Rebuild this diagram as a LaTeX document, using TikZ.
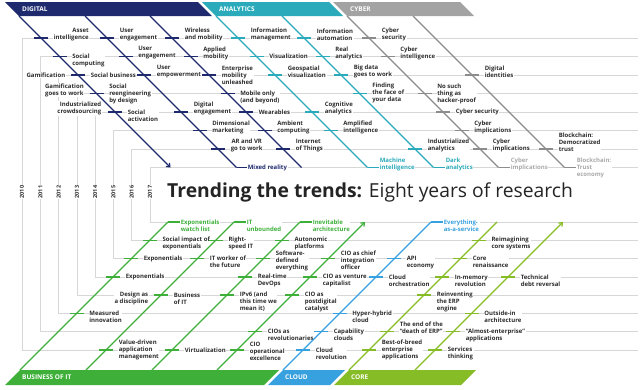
\documentclass[tikz,border=0pt]{standalone}
\usepackage{fontspec}
\setmainfont{Open Sans}
\usetikzlibrary{arrows.meta}
\definecolor{digital}{RGB}{31,42,110}
\definecolor{analytics}{RGB}{42,170,186}
\definecolor{cyber}{RGB}{140,140,140}
\definecolor{cyberlight}{RGB}{170,170,170}
\definecolor{bizit}{RGB}{62,176,58}
\definecolor{cloud}{RGB}{55,160,222}
\definecolor{core}{RGB}{134,188,37}
\definecolor{gridgray}{RGB}{215,215,215}
\definecolor{inkgray}{RGB}{45,45,45}
\begin{document}
\begin{tikzpicture}[x=1pt,y=-1pt,
  trend/.style={font=\fontsize{6}{7}\selectfont\bfseries,text=inkgray,fill=white,inner sep=0.6pt,align=left,anchor=west},
  yearrule/.style={draw=gridgray,line width=0.8pt},
  spine/.style={line width=1.2pt},
  tick/.style={line width=1.3pt},
  bandtext/.style={font=\fontsize{6.5}{7}\selectfont\bfseries,text=white,anchor=west,inner sep=0pt},
  yearlabel/.style={font=\fontsize{5.5}{6}\selectfont\bfseries,text=inkgray,fill=white,rotate=90,inner sep=1pt}]
\useasboundingbox (0,0) rectangle (640,389);
% year frames: top row, left rule, bottom row
\foreach \yr/\xx/\yt/\yb in {2010/22/38/350,2011/40.3/56.5/331.7,2012/58.6/75/313.4,2013/76.9/93.5/295.1,
  2014/95.1/112/276.9,2015/113.4/130.5/258.6,2016/131.7/149/240.3,2017/150/167.5/222}{
  \draw[yearrule] (638,\yt) -- (\xx,\yt) -- (\xx,\yb) -- (638,\yb);
  \node[yearlabel] (y\yr) at (\xx,192) {\yr};
}
% bands
\fill[digital] (5,2) -- (198,2) -- (212,16) -- (19,16) -- cycle;
\fill[analytics] (202,2) -- (329,2) -- (343,16) -- (216,16) -- cycle;
\fill[cyber!80] (333,2) -- (460,2) -- (474,16) -- (347,16) -- cycle;
\node[bandtext] (bdigital) at (22,9) {DIGITAL};
\node[bandtext] (banalytics) at (219,9) {ANALYTICS};
\node[bandtext] (bcyber) at (350,9) {CYBER};
\fill[bizit] (20,370) -- (279,370) -- (264,385) -- (5,385) -- cycle;
\fill[cloud] (283,370) -- (345,370) -- (330,385) -- (268,385) -- cycle;
\fill[core] (349,370) -- (476,370) -- (461,385) -- (334,385) -- cycle;
\node[bandtext] (bbizit) at (22,377.5) {BUSINESS OF IT};
\node[bandtext] (bcloud) at (285,377.5) {CLOUD};
\node[bandtext] (bcore) at (351,377.5) {CORE};
% title
\node[anchor=base west,inner sep=0,text=inkgray!80!black,font=\fontsize{19.3}{20}\selectfont] (title) at (167,197)
  {\bfseries Trending the trends:\mdseries{} Eight years of research};
% top trends
\node[trend,align=right] (asset) at (53,34.5) {Asset\\intelligence};
\node[trend] (usereng) at (119,34.5) {User\\engagement};
\node[trend] (wireless) at (184,34.5) {Wireless\\and mobility};
\node[trend] (infomgmt) at (250,34.5) {Information\\management};
\node[trend] (infoauto) at (316,34.5) {Information\\automation};
\node[trend] (cybersec) at (381,34.5) {Cyber\\security};
\node[trend] (socialcomp) at (71.5,60) {Social\\computing};
\node[trend] (usereng2) at (137.5,53) {User\\engagement};
\node[trend] (applied) at (202.5,53) {Applied\\mobility};
\node[trend] (visual) at (268.5,56.5) {Visualization};
\node[trend] (realana) at (334.5,53) {Real\\analytics};
\node[trend] (cyberint) at (399.5,53) {Cyber\\intelligence};
\node[trend,anchor=east] (gamif) at (66,75) {Gamification};
\node[trend] (socbiz) at (90,75) {Social business};
\node[trend] (userempow) at (156,71.5) {User\\empowerment};
\node[trend] (entmob) at (221,75) {Enterprise\\mobility\\unleashed};
\node[trend] (geospat) at (287,71.5) {Geospatial\\visualization};
\node[trend] (bigdata) at (353,71.5) {Big data\\goes to work};
\node[trend] (digid) at (484,71.5) {Digital\\identities};
\node[trend,anchor=east,align=center] (gamwork) at (84.5,90) {Gamification\\goes to work};
\node[trend] (socreeng) at (108.5,93.5) {Social\\reengineering\\by design};
\node[trend] (mobonly) at (239.5,97) {Mobile only\\(and beyond)};
\node[trend] (finding) at (371.5,93) {Finding\\the face of\\your data};
\node[trend] (hackproof) at (436.5,93.5) {No such\\thing as\\hacker-proof};
\node[trend,anchor=east,align=right] (crowd) at (102,108.5) {Industrialized\\crowdsourcing};
\node[trend] (socact) at (127,115.5) {Social\\activation};
\node[trend] (digeng) at (193,108.5) {Digital\\engagement};
\node[trend] (wearables) at (258,112) {Wearables};
\node[trend] (cognitive) at (324,108.5) {Cognitive\\analytics};
\node[trend] (cybersec2) at (455,112) {Cyber security};
\node[trend] (dimmark) at (211.5,127) {Dimensional\\marketing};
\node[trend] (ambient) at (276.5,127) {Ambient\\computing};
\node[trend] (amplified) at (342.5,127) {Amplified\\intelligence};
\node[trend] (cyberimp) at (473.5,127) {Cyber\\implications};
\node[trend,align=center] (arvr) at (230,145.5) {AR and VR\\go to work};
\node[trend] (iot) at (295,145.5) {Internet\\of Things};
\node[trend] (indana) at (427,145.5) {Industrialized\\analytics};
\node[trend] (cyberimp2) at (492,145.5) {Cyber\\implications};
\node[trend] (blockdem) at (558,142) {Blockchain:\\Democratized\\trust};
\node[trend,text=digital] (mixed) at (247,167.5) {Mixed reality};
\node[trend,text=analytics] (machine) at (379,164) {Machine\\intelligence};
\node[trend,text=analytics] (dark) at (445,164) {Dark\\analytics};
\node[trend,text=cyberlight] (cyberimp3) at (510,164) {Cyber\\implications};
\node[trend,text=cyberlight] (blocktrust) at (576,167.5) {Blockchain:\\Trust\\economy};
% bottom trends
\node[trend,text=bizit] (expwatch) at (180,225.5) {Exponentials\\watch list};
\node[trend,text=bizit] (itunb) at (246,225.5) {IT\\unbounded};
\node[trend,text=bizit] (inevit) at (312,225.5) {Inevitable\\architecture};
\node[trend,text=cloud] (eaas) at (443,225.5) {Everything-\\as-a-service};
\node[trend] (socimpact) at (161.7,243.8) {Social impact of\\exponentials};
\node[trend] (rightspeed) at (227.7,243.8) {Right-\\speed IT};
\node[trend] (autonomic) at (293.7,243.8) {Autonomic\\platforms};
\node[trend] (reimag) at (490.7,243.8) {Reimagining\\core systems};
\node[trend] (expo15) at (143,258.6) {Exponentials};
\node[trend] (itworker) at (209,262.1) {IT worker of\\the future};
\node[trend] (sde) at (275,260.6) {Software-\\defined\\everything};
\node[trend] (cioint) at (340,260.6) {CIO as chief\\integration\\officer};
\node[trend] (api) at (406,262.1) {API\\economy};
\node[trend] (coreren) at (472,262.1) {Core\\renaissance};
\node[trend] (expo14) at (125,276.9) {Exponentials};
\node[trend] (devops) at (257,280.4) {Real-time\\DevOps};
\node[trend] (ciovc) at (322,280.4) {CIO as venture\\capitalist};
\node[trend] (cloudorch) at (388,280.4) {Cloud\\orchestration};
\node[trend] (inmem) at (454,280.4) {In-memory\\revolution};
\node[trend] (techdebt) at (520,280.4) {Technical\\debt reversal};
\node[trend,anchor=east,align=right] (design) at (149,298.6) {Design as\\a discipline};
\node[trend] (bizofit) at (173,298.6) {Business\\of IT};
\node[trend] (ipv6) at (239,302.1) {IPv6 (and\\this time we\\mean it)};
\node[trend] (ciopost) at (304,302.1) {CIO as\\postdigital\\catalyst};
\node[trend] (reinvent) at (436,302.1) {Reinventing\\the ERP\\engine};
\node[trend] (measured) at (88.6,316.9) {Measured\\innovation};
\node[trend] (hyper) at (351.6,316.9) {Hyper-hybrid\\cloud};
\node[trend] (outside) at (483.6,316.9) {Outside-in\\architecture};
\node[trend] (ciorev) at (267,335.2) {CIOs as\\revolutionaries};
\node[trend] (capab) at (333,335.2) {Capability\\clouds};
\node[trend] (enderp) at (399,328.2) {The end of the\\“death of ERP”};
\node[trend] (almost) at (465,335.2) {“Almost-enterprise”\\applications};
\node[trend] (valuedriven) at (118,350) {Value-driven\\application\\management};
\node[trend] (virtual) at (184,350) {Virtualization};
\node[trend] (cioops) at (249,351) {CIO\\operational\\excellence};
\node[trend] (cloudrev) at (315,353.5) {Cloud\\revolution};
\node[trend] (bestbreed) at (381,350) {Best-of-breed\\enterprise\\applications};
\node[trend] (services) at (447,353.5) {Services\\thinking};
% spines
\foreach \c [count=\k] in {3,69,134,200,266,331,397}{
  \coordinate (d\k-s) at (\c+16,16);
  \coordinate (d\k-e) at (\c+167.5,167.5);
}
\foreach \s [count=\k] in {390,456,522,587,653,719,785}{
  \coordinate (b\k-s) at (\s-370,370);
  \coordinate (b\k-e) at (\s-222,222);
}
\draw[spine,digital,-{Straight Barb[length=3pt,width=5pt]}] (d1-s) -- (d1-e);
\draw[spine,digital] (d2-s) -- (d2-e);
\draw[spine,digital] (d3-s) -- (d3-e);
\draw[spine,analytics] (d4-s) -- (d4-e);
\draw[spine,analytics] (d5-s) -- (d5-e);
\draw[spine,cyber] (d6-s) -- (d6-e);
\draw[spine,cyber] (d7-s) -- (d7-e);
\draw[spine,bizit] (b1-s) -- (b1-e);
\draw[spine,bizit] (b2-s) -- (b2-e);
\draw[spine,bizit] (b3-s) -- (b3-e);
\draw[spine,bizit,-{Straight Barb[length=3pt,width=5pt]}] (b4-s) -- (b4-e);
\draw[spine,cloud] (b5-s) -- (b5-e);
\draw[spine,core] (b6-s) -- (b6-e);
\draw[spine,core,-{Straight Barb[length=3pt,width=5pt]}] (b7-s) -- (b7-e);
% ticks where a trend sits on a spine
\foreach \x/\y/\col in {41/38/digital,107/38/digital,172/38/digital,238/38/analytics,304/38/analytics,369/38/cyber,
  59.5/56.5/digital,125.5/56.5/digital,190.5/56.5/digital,256.5/56.5/analytics,322.5/56.5/analytics,387.5/56.5/cyber,
  78/75/digital,144/75/digital,209/75/digital,275/75/analytics,341/75/analytics,472/75/cyber,
  96.5/93.5/digital,227.5/93.5/digital,359.5/93.5/analytics,424.5/93.5/cyber,
  115/112/digital,181/112/digital,246/112/digital,312/112/analytics,443/112/cyber,
  199.5/130.5/digital,264.5/130.5/digital,330.5/130.5/analytics,461.5/130.5/cyber,
  218/149/digital,283/149/digital,415/149/analytics,480/149/cyber,546/149/cyber,
  106/350/bizit,172/350/bizit,237/350/bizit,303/350/cloud,369/350/core,435/350/core,
  255.3/331.7/bizit,321.3/331.7/cloud,387.3/331.7/core,453.3/331.7/core,
  76.6/313.4/bizit,339.6/313.4/cloud,471.6/313.4/core,
  160.9/295.1/bizit,226.9/295.1/bizit,291.9/295.1/bizit,423.9/295.1/core,
  113.1/276.9/bizit,245.1/276.9/bizit,310.1/276.9/bizit,376.1/276.9/cloud,442.1/276.9/core,508.1/276.9/core,
  131.4/258.6/bizit,197.4/258.6/bizit,263.4/258.6/bizit,328.4/258.6/bizit,394.4/258.6/cloud,460.4/258.6/core,
  149.7/240.3/bizit,215.7/240.3/bizit,281.7/240.3/bizit,478.7/240.3/core}
  \draw[tick,\col] (\x-7,\y) -- (\x+7,\y);
% 2017 ends
\draw[tick,digital] (d2-e) -- (d2-e -| mixed.west);
\draw[tick,analytics] (d4-e) -- (d4-e -| machine.west);
\draw[tick,analytics] (d5-e) -- (d5-e -| dark.west);
\draw[tick,cyber] (d6-e) -- (d6-e -| cyberimp3.west);
\draw[tick,cyber] (d7-e) -- (d7-e -| blocktrust.west);
\draw[tick,bizit] (b1-e) -- (b1-e -| expwatch.west);
\draw[tick,bizit] (b2-e) -- (b2-e -| itunb.west);
\draw[tick,bizit] (b3-e) -- (b3-e -| inevit.west);
\draw[tick,cloud] (b5-e) -- (b5-e -| eaas.west);
\end{tikzpicture}
\end{document}
